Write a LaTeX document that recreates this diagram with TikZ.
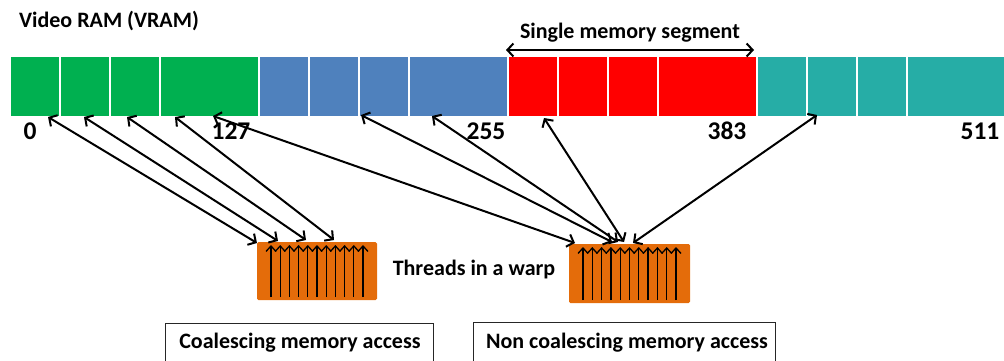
\documentclass[tikz,border=0pt]{standalone}
\usepackage{fontspec}
\setmainfont{Carlito}
\usetikzlibrary{arrows.meta}
\definecolor{memgreen}{RGB}{0,176,80}
\definecolor{memblue}{RGB}{79,129,189}
\definecolor{memred}{RGB}{255,0,0}
\definecolor{memteal}{RGB}{38,173,166}
\definecolor{warporange}{RGB}{228,108,10}
\begin{document}
\begin{tikzpicture}[x=1pt,y=-1pt,
  link/.style={line width=2pt,
    {Straight Barb[length=6pt,width=13pt]}-{Straight Barb[length=6pt,width=13pt]}},
  thread/.style={line width=1.3pt, -{Straight Barb[length=5.5pt,width=10pt]}},
  warp/.style={fill=warporange, rounded corners=1.5pt, inner sep=0pt,
    minimum width=120pt, minimum height=58pt},
  txt/.style={font=\bfseries\fontsize{22}{24}\selectfont, inner sep=0pt},
  num/.style={font=\bfseries\fontsize{25.5}{27}\selectfont, inner sep=0pt},
  caption/.style={draw=black!85, line width=1pt}
]
\useasboundingbox (0,0) rectangle (1004,360);
\clip (0,0) rectangle (1004,360);

% memory bar: four segments of four cells each
\foreach \c [count=\i from 0] in {memgreen,memblue,memred,memteal} {
  \pgfmathsetmacro{\xo}{10+249*\i}
  \fill[\c] (\xo,57) rectangle (\xo+249,116);
  \foreach \d in {0,50,100,150}
    \draw[white, line width=1.5pt] (\xo+\d,57) -- (\xo+\d,116);
}

\node[txt, anchor=west] (title) at (19,21) {Video RAM (VRAM)};

% address labels
\node[num] (a0)   at (30,131)  {0};
\node[num] (a127) at (231,131) {127};
\node[num] (a255) at (486,131) {255};
\node[num] (a383) at (727,131) {383};
\node[num] (a511) at (980,131) {511};

% segment extent
\coordinate (segL) at (506,50);
\coordinate (segR) at (754,50);
\draw[link] (segL) -- (segR);
\node[txt] (segtxt) at (630,33) {Single memory segment};

% warps
\node[warp] (warpL) at (317,271) {};
\node[warp, minimum width=121pt, minimum height=59pt] (warpR) at (629.5,273.5) {};
\foreach \k in {0,...,10} {
  \draw[thread] (271+9.2*\k,297) -- (271+9.2*\k,245);
  \draw[thread] (583+9.3*\k,300) -- (583+9.3*\k,247);
}
\node[txt] (warptxt) at (474,270) {Threads in a warp};

% captions
\draw[caption] (165,323) rectangle (433,380);
\node[txt] (capL) at (300,343) {Coalescing memory access};
\draw[caption] (473,322) rectangle (775,380);
\node[txt] (capR) at (627,343) {Non coalescing memory access};

% memory-side endpoints
\coordinate (m1) at (48,117);
\coordinate (m2) at (84,117);
\coordinate (m3) at (127,117);
\coordinate (m4) at (175,117);
\coordinate (n1) at (213,116);
\coordinate (n2) at (361,115);
\coordinate (n3) at (432,116);
\coordinate (n4) at (544,118);
\coordinate (n5) at (817,115);
% warp-side endpoints
\coordinate (w1) at (257,243);
\coordinate (w2) at (278,241);
\coordinate (w3) at (306,240);
\coordinate (w4) at (334,240);
\coordinate (v1) at (575,243);
\coordinate (v2) at (612,242);
\coordinate (v3) at (618,242);
\coordinate (v4) at (624,242);
\coordinate (v5) at (633,243);

\foreach \a/\b in {m1/w1,m2/w2,m3/w3,m4/w4,n1/v1,n2/v2,n3/v3,n4/v4,n5/v5}
  \draw[link] (\a) -- (\b);
\end{tikzpicture}
\end{document}
